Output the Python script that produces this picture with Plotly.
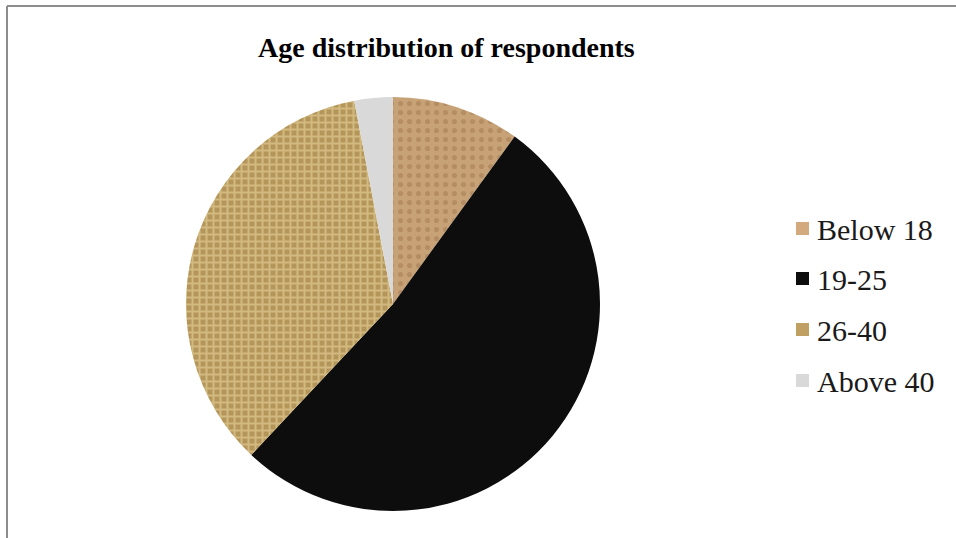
import plotly.graph_objects as go

W, H = 956, 538

title = "Age distribution of respondents"
labels = ["Below 18", "19-25", "26-40", "Above 40"]
values = [10, 52, 35, 3]
colors = ["#c8a277", "#0d0d0d", "#b4965a", "#d9d9d9"]
pattern_shapes = [".", "", "+", ""]
pattern_fg = ["#a27850", "#0d0d0d", "#eedba6", "#d9d9d9"]
pattern_size = [9, 6, 7, 6]
pattern_solidity = [0.25, 0.3, 0.5, 0.3]
swatch_colors = ["#d2aa7e", "#0d0d0d", "#bfa062", "#d9d9d9"]

FONT = "Times New Roman, Liberation Serif, serif"

fig = go.Figure()
fig.add_trace(go.Pie(
    labels=labels,
    values=values,
    sort=False,
    direction="clockwise",
    rotation=0,
    textinfo="none",
    hoverinfo="label+value",
    marker=dict(
        colors=colors,
        line=dict(width=0),
        pattern=dict(shape=pattern_shapes, fgcolor=pattern_fg, size=pattern_size,
                     solidity=pattern_solidity, fillmode="overlay"),
    ),
    domain=dict(x=[186 / W, 600 / W], y=[1 - 511 / H, 1 - 97 / H]),
    showlegend=False,
))

# legend drawn manually to match spacing
ys = [229, 279, 330, 381]
shapes = []
annotations = []
for lab, col, yc in zip(labels, swatch_colors, ys):
    shapes.append(dict(type="rect", xref="paper", yref="paper",
                       x0=796 / W, x1=809 / W, y0=1 - (yc + 6) / H, y1=1 - (yc - 7) / H,
                       fillcolor=col, line=dict(width=0)))
    annotations.append(dict(text=lab, xref="paper", yref="paper", x=815 / W, y=1 - yc / H,
                            xanchor="left", yanchor="middle", showarrow=False,
                            font=dict(family=FONT, size=30, color="#1a1a1a")))

annotations.append(dict(text="<b>" + title + "</b>", xref="paper", yref="paper",
                        x=446 / W, y=1 - 47 / H, xanchor="center", yanchor="middle",
                        showarrow=False, font=dict(family=FONT, size=28, color="#000000")))

# outer frame lines (left and top)
shapes.append(dict(type="line", xref="paper", yref="paper", x0=7 / W, x1=7 / W,
                   y0=0, y1=1 - 6 / H, line=dict(color="#8c8c8c", width=2)))
shapes.append(dict(type="line", xref="paper", yref="paper", x0=7 / W, x1=1,
                   y0=1 - 6 / H, y1=1 - 6 / H, line=dict(color="#8c8c8c", width=2)))

fig.update_layout(
    width=W, height=H,
    margin=dict(l=0, r=0, t=0, b=0),
    paper_bgcolor="white",
    plot_bgcolor="white",
    shapes=shapes,
    annotations=annotations,
    showlegend=False,
)

fig.write_html("out.html")
